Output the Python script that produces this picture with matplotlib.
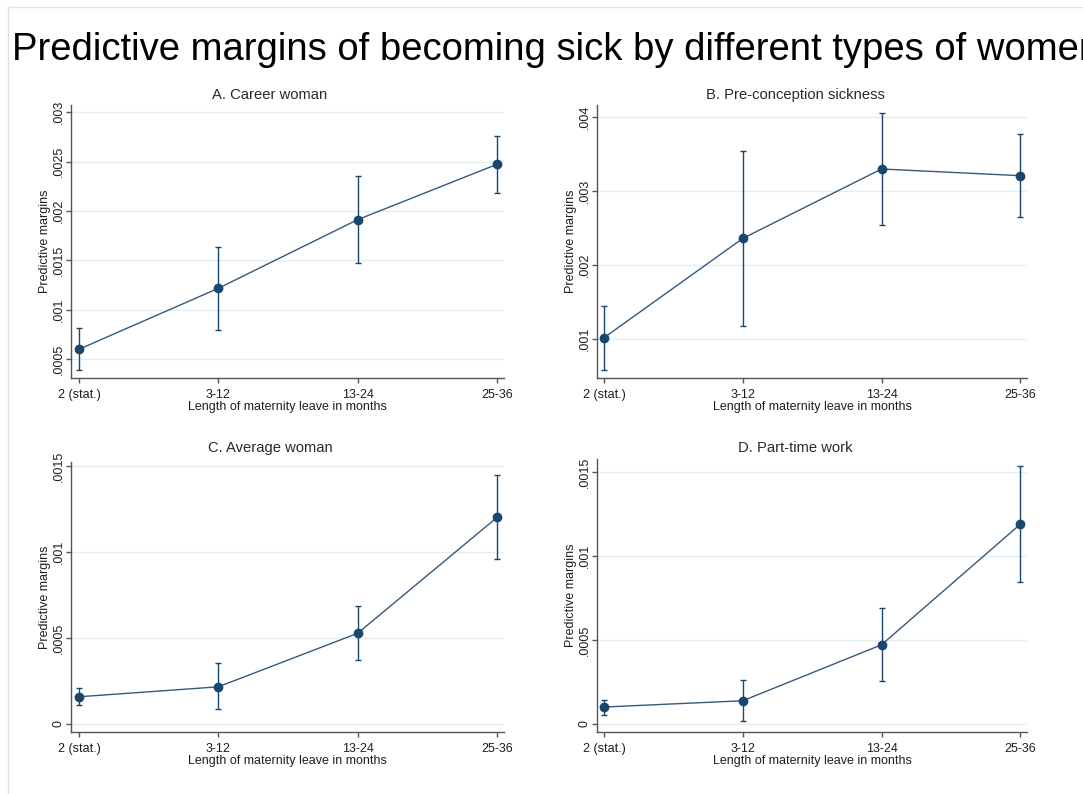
import numpy as np
import matplotlib
matplotlib.use("Agg")
import matplotlib.pyplot as plt
from matplotlib.ticker import FuncFormatter
from matplotlib.lines import Line2D

plt.rcParams['font.family'] = ['Liberation Sans', 'DejaVu Sans']

# categories on the x axis
categories = ['2 (stat.)', '3-12', '13-24', '25-36']

# panel titles
titles = ['A. Career woman', 'B. Pre-conception sickness',
          'C. Average woman', 'D. Part-time work']

# predicted margins and 95% CI, one list per panel
margin_a = [0.000598, 0.001216, 0.001912, 0.002473]
low_a = [0.000385, 0.000797, 0.001476, 0.002185]
high_a = [0.000811, 0.001638, 0.002354, 0.002763]

margin_b = [0.001018, 0.002359, 0.003296, 0.003206]
low_b = [0.000583, 0.001175, 0.002539, 0.002651]
high_b = [0.001453, 0.003543, 0.004054, 0.003771]

margin_c = [0.000157, 0.000215, 0.000527, 0.001202]
low_c = [0.000109, 0.000083, 0.000374, 0.000957]
high_c = [0.000207, 0.000351, 0.000684, 0.001450]

margin_d = [0.0000995, 0.000137, 0.000471, 0.001191]
low_d = [0.0000537, 0.000016, 0.000252, 0.000843]
high_d = [0.000143, 0.000261, 0.000690, 0.001541]

# y ticks per panel
yticks_a = [0.0005, 0.001, 0.0015, 0.002, 0.0025, 0.003]
yticks_b = [0.001, 0.002, 0.003, 0.004]
yticks_c = [0, 0.0005, 0.001, 0.0015]
yticks_d = [0, 0.0005, 0.001, 0.0015]

W, H = 1083, 794
fig = plt.figure(figsize=(W / 100, H / 100), dpi=100)

navy = '#1a476f'
grid_col = '#e4edf0'
spine_col = '#555555'
txt_col = '#1e1e1e'


def stata_fmt(v, pos):
    if abs(v) < 1e-12:
        return '0'
    s = '%g' % v
    return s.replace('0.', '.', 1)


# panel boxes in pixels: left, top, right, bottom
boxes = [(71, 105, 504, 378), (597, 105, 1027, 378),
         (71, 462, 504, 732), (597, 459, 1027, 732)]
ylims = [(0.000307, 0.003074), (0.000475, 0.00416),
         (-0.0000483, 0.001525), (-0.0000495, 0.00158)]
xlims = [(-0.057, 3.05), (-0.05, 3.048), (-0.057, 3.05), (-0.05, 3.048)]
title_pos = [(270, 95), (795, 95), (270, 448), (795, 448)]

data = [(margin_a, low_a, high_a, yticks_a),
        (margin_b, low_b, high_b, yticks_b),
        (margin_c, low_c, high_c, yticks_c),
        (margin_d, low_d, high_d, yticks_d)]

x = np.arange(len(categories))

for i, (m, lo, hi, yt) in enumerate(data):
    l, t, r, b = boxes[i]
    ax = fig.add_axes([l / W, 1 - b / H, (r - l) / W, (b - t) / H])
    m = np.array(m)
    err = np.vstack([m - np.array(lo), np.array(hi) - m])
    ax.errorbar(x, m, yerr=err, fmt='none', ecolor=navy, elinewidth=1.0,
                capsize=2.5, capthick=1.0, zorder=3)
    ax.plot(x, m, color='#34597c', lw=1.0, zorder=4)
    ax.plot(x, m, 'o', color=navy, ms=6, zorder=5)
    ax.set_xlim(*xlims[i])
    ax.set_ylim(*ylims[i])
    ax.set_xticks(x)
    ax.set_xticklabels(categories)
    ax.set_yticks(yt)
    ax.yaxis.set_major_formatter(FuncFormatter(stata_fmt))
    for lab in ax.get_yticklabels():
        lab.set_rotation(90)
        lab.set_va('center')
    ax.tick_params(axis='both', labelsize=9, colors=spine_col,
                   labelcolor=txt_col, length=3.6, width=1)
    ax.tick_params(axis='y', pad=1)
    ax.tick_params(axis='x', pad=4)
    ax.grid(axis='y', color=grid_col, lw=1)
    ax.set_axisbelow(True)
    for side in ['top', 'right']:
        ax.spines[side].set_visible(False)
    for side in ['left', 'bottom']:
        ax.spines[side].set_color(spine_col)
        ax.spines[side].set_linewidth(1)
    ax.set_xlabel('Length of maternity leave in months', fontsize=9,
                  color=txt_col, labelpad=0)
    ax.set_ylabel('Predictive margins', fontsize=9, color=txt_col,
                  labelpad=1)
    tx, ty = title_pos[i]
    fig.text(tx / W, 1 - ty / H, titles[i], fontsize=10.6, color='#222a33',
             ha='center', va='center')

fig.text(11.5 / W, 1 - 60 / H,
         'Predictive margins of becoming sick by different types of women',
         fontsize=27.5, color='black', ha='left', va='baseline')

# light slide frame
fig.add_artist(Line2D([8 / W, 1], [1 - 7 / H, 1 - 7 / H],
                      transform=fig.transFigure, color='#e2e2e2', lw=1))
fig.add_artist(Line2D([8 / W, 8 / W], [0, 1 - 7 / H],
                      transform=fig.transFigure, color='#e2e2e2', lw=1))

fig.savefig('out.png', dpi=100)
